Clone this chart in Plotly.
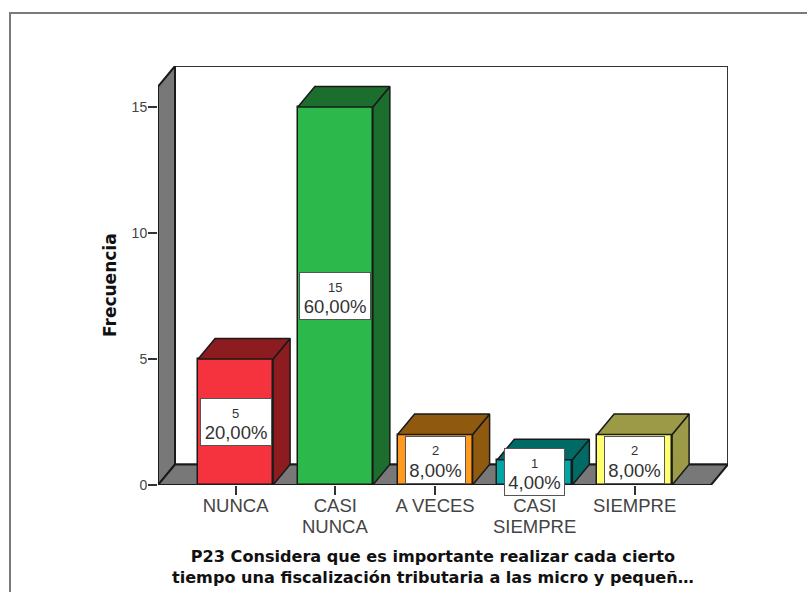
import plotly.graph_objects as go

# Survey responses for question P23
tick_first_lines = ["NUNCA", "CASI", "A VECES", "CASI", "SIEMPRE"]
tick_second_lines = ["", "NUNCA", "", "SIEMPRE", ""]
counts = [5, 15, 2, 1, 2]
percent_labels = ["20,00%", "60,00%", "8,00%", "4,00%", "8,00%"]
front_colors = ["#F5333F", "#2DB84B", "#FF9A1E", "#00A5A5", "#FFFF70"]
side_colors = ["#8C1C20", "#1B6E2D", "#8F5A10", "#006B66", "#9C9A46"]
x_title = ("P23 Considera que es importante realizar cada cierto<br>"
           "tiempo una fiscalización tributaria a las micro y pequeñ…")

W, H = 807, 592
M_L, M_R, M_T, M_B = 158, 79, 66, 107

# Pixel scale of the two axes
PX_PER_CAT = 99.75
PX_PER_UNIT = 25.2
CAT0_PX = 235.6
X_MIN = (158 - CAT0_PX) / PX_PER_CAT
X_MAX = (728 - CAT0_PX) / PX_PER_CAT
Y_MAX = (H - M_T - M_B) / PX_PER_UNIT

# Oblique projection used for the box effect
DX = 17 / PX_PER_CAT
DY = 20.5 / PX_PER_UNIT
BAR_W = 75 / PX_PER_CAT
EDGE = "#1a1a1a"
WALL = "#787878"
TEXT = "#444444"
SANS = "Liberation Sans"
TITLE_BOLD = "DejaVu Sans"


def to_paper_x(px):
    return (px - M_L) / (W - M_L - M_R)


def to_paper_y(py):
    return (H - M_B - py) / (H - M_T - M_B)


def poly(xs, ys, fill, line=EDGE):
    path = "M " + " L ".join(f"{x},{y}" for x, y in zip(xs, ys)) + " Z"
    return dict(type="path", path=path, xref="x", yref="y", fillcolor=fill,
                line=dict(color=line, width=2), layer="below")


positions = list(range(len(counts)))
back_x = X_MIN + DX
shapes = [
    # back wall
    poly([back_x, X_MAX, X_MAX, back_x], [DY, DY, Y_MAX, Y_MAX], "#FFFFFF", "#333333"),
    # left wall
    poly([X_MIN, back_x, back_x, X_MIN], [0, DY, Y_MAX, Y_MAX - DY], WALL),
    # floor
    poly([X_MIN, back_x, X_MAX, X_MAX - DX], [0, DY, DY, 0], WALL),
    # outer chart frame, open towards the right and bottom
    dict(type="path", xref="paper", yref="paper",
         path=f"M {to_paper_x(10)},{to_paper_y(H)} "
              f"L {to_paper_x(10)},{to_paper_y(13)} "
              f"L {to_paper_x(W)},{to_paper_y(13)}",
         line=dict(color="#7a7a7a", width=2), layer="below"),
]

fig = go.Figure()
fig.add_trace(go.Bar(
    x=positions, y=counts, width=BAR_W,
    marker=dict(color=front_colors, line=dict(color=EDGE, width=1.5)),
    hoverinfo="skip", showlegend=False,
))

# Side and top faces of each bar
for pos, val, shade in zip(positions, counts, side_colors):
    left, right = pos - BAR_W / 2, pos + BAR_W / 2
    fig.add_trace(go.Scatter(
        x=[right, right + DX, right + DX, right, right],
        y=[0, DY, val + DY, val, 0],
        mode="lines", fill="toself", fillcolor=shade,
        line=dict(color=EDGE, width=1.5), hoverinfo="skip", showlegend=False,
    ))
    fig.add_trace(go.Scatter(
        x=[left, left + DX, right + DX, right, left],
        y=[val, val + DY, val + DY, val, val],
        mode="lines", fill="toself", fillcolor=shade,
        line=dict(color=EDGE, width=1.5), hoverinfo="skip", showlegend=False,
    ))

annotations = []
# Value boxes centred on each bar: percentage inside the box, count above it
for pos, val, pct in zip(positions, counts, percent_labels):
    annotations.append(dict(
        x=pos, y=val / 2, xref="x", yref="y", showarrow=False,
        xanchor="center", yanchor="middle", text=pct,
        font=dict(family=SANS, size=18.5, color="#333333"),
        bgcolor="#FFFFFF", bordercolor="#555555", borderwidth=1,
        width=66 if val >= 5 else 55, height=42, borderpad=2,
        align="center", valign="bottom",
    ))
    annotations.append(dict(
        x=pos, y=val / 2, xref="x", yref="y", showarrow=False,
        xanchor="center", yanchor="middle", yshift=9, text=str(val),
        font=dict(family=SANS, size=13, color="#333333"),
    ))

# Second line of the two-line category labels
for pos, line in zip(positions, tick_second_lines):
    if line:
        annotations.append(dict(
            x=pos, y=to_paper_y(526), xref="x", yref="paper", showarrow=False,
            xanchor="center", yanchor="middle", text=line,
            font=dict(family=SANS, size=18.5, color=TEXT),
        ))

annotations.append(dict(
    x=to_paper_x(110), y=to_paper_y(285), xref="paper", yref="paper",
    xanchor="center", yanchor="middle",
    text="<b>Frecuencia</b>", textangle=-90, showarrow=False,
    font=dict(family=TITLE_BOLD, size=17, color="#111111"),
))
annotations.append(dict(
    x=to_paper_x(433), y=to_paper_y(567), xref="paper", yref="paper",
    xanchor="center", yanchor="middle",
    text=f"<b>{x_title}</b>", showarrow=False, align="center",
    font=dict(family=TITLE_BOLD, size=16.1, color="#111111"),
))

fig.update_layout(
    width=W, height=H, autosize=False,
    margin=dict(l=M_L, r=M_R, t=M_T, b=M_B, autoexpand=False),
    paper_bgcolor="#FFFFFF", plot_bgcolor="rgba(0,0,0,0)",
    showlegend=False, shapes=shapes, annotations=annotations, bargap=0,
    xaxis=dict(
        range=[X_MIN, X_MAX], tickmode="array", tickvals=positions,
        ticktext=tick_first_lines, ticks="outside", ticklen=9, tickwidth=1.5,
        tickcolor="#333333", ticklabelstandoff=-5,
        tickfont=dict(family=SANS, size=18.5, color=TEXT),
        showgrid=False, zeroline=False, showline=False,
    ),
    yaxis=dict(
        range=[0, Y_MAX], tickmode="array", tickvals=[0, 5, 10, 15],
        ticks="outside", ticklen=9, tickwidth=1.5, tickcolor="#333333",
        ticklabelstandoff=-2,
        tickfont=dict(family=SANS, size=14, color=TEXT),
        showgrid=False, zeroline=False, showline=False,
    ),
)

fig.write_html("out.html")
